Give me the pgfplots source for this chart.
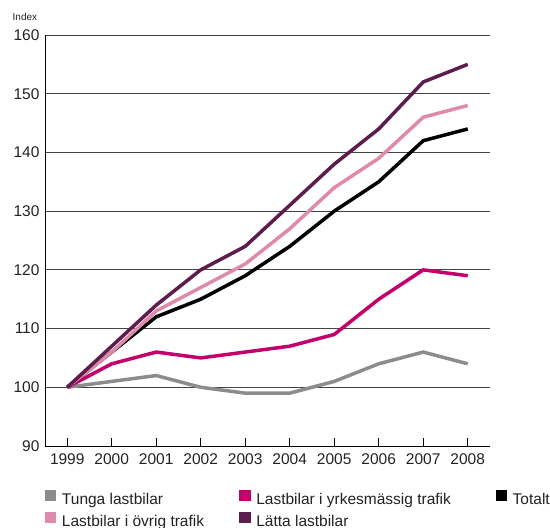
\documentclass[border=0pt]{standalone}
\usepackage{fontspec}
\setmainfont{Liberation Sans}
\usepackage{pgfplots}
\pgfplotsset{compat=1.18}
\definecolor{cGray}{HTML}{8C8C8C}
\definecolor{cMag}{HTML}{C4006A}
\definecolor{cPink}{HTML}{E08AAB}
\definecolor{cPurp}{HTML}{5C1C4C}
\definecolor{cGrid}{HTML}{444444}
\definecolor{cText}{HTML}{222222}
\begin{document}
\begin{tikzpicture}
\useasboundingbox (-45pt,-82pt) rectangle (505pt,446pt);
\begin{axis}[
  at={(0,0)}, anchor=south west,
  scale only axis, width=445pt, height=411pt,
  xmin=1998.5, xmax=2008.5, ymin=90, ymax=160,
  xtick={1999,...,2008},
  ytick={90,100,...,160},
  /pgf/number format/assume math mode=true,
  x tick label style={/pgf/number format/1000 sep={}, font=\fontsize{15.5}{18}\selectfont, text=cText, yshift=-4pt},
  y tick label style={font=\fontsize{15.5}{18}\selectfont, text=cText, xshift=-2pt},
  axis x line*=bottom, axis y line*=left,
  axis line style={black, line width=0.9pt},
  xtick pos=bottom, xtick align=inside,
  major tick length=8pt,
  x tick style={black, line width=0.8pt},
  y tick style={draw=none},
  ymajorgrids, major grid style={cGrid, line width=0.9pt},
  line join=miter,
  legend columns=3,
  legend cell align=left,
  legend image code/.code={\fill[#1,draw=none] (0pt,0pt) rectangle (11.5pt,11pt);},
  legend style={at={(0,0)}, anchor=north west, yshift=-43.5pt, draw=none, fill=none,
    inner sep=0pt, outer sep=0pt, row sep=3.5pt, column sep=0pt,
    font=\fontsize{15.5}{18}\selectfont,
    nodes={inner sep=0pt, text height=11.5pt, text depth=3.5pt, text=cText},
    /tikz/every odd column/.append style={column sep=5.5pt},
    /tikz/every even column/.append style={column sep=0pt}},
]
\addplot[cGray, line width=3.5pt] coordinates {(1999,100) (2000,101) (2001,102) (2002,100) (2003,99) (2004,99) (2005,101) (2006,104) (2007,106) (2008,104)};
\addlegendentry{\makebox[177.3pt][l]{Tunga lastbilar}}
\addplot[cMag, line width=3.5pt] coordinates {(1999,100) (2000,104) (2001,106) (2002,105) (2003,106) (2004,107) (2005,109) (2006,115) (2007,120) (2008,119)};
\addlegendentry{\makebox[239.4pt][l]{Lastbilar i yrkesmässig trafik}}
\addplot[black, line width=3.5pt] coordinates {(1999,100) (2000,106) (2001,112) (2002,115) (2003,119) (2004,124) (2005,130) (2006,135) (2007,142) (2008,144)};
\addlegendentry{Totalt}
\addplot[cPink, line width=3.5pt] coordinates {(1999,100) (2000,106) (2001,113) (2002,117) (2003,121) (2004,127) (2005,134) (2006,139) (2007,146) (2008,148)};
\addlegendentry{\makebox[177.3pt][l]{Lastbilar i övrig trafik}}
\addplot[cPurp, line width=3.5pt] coordinates {(1999,100) (2000,107) (2001,114) (2002,120) (2003,124) (2004,131) (2005,138) (2006,144) (2007,152) (2008,155)};
\addlegendentry{\makebox[239.4pt][l]{Lätta lastbilar}}
\end{axis}
\node[anchor=base west, inner sep=0pt, font=\fontsize{10}{12}\selectfont, text=cText] at (-32.5pt,425pt) {Index};
\end{tikzpicture}
\end{document}
